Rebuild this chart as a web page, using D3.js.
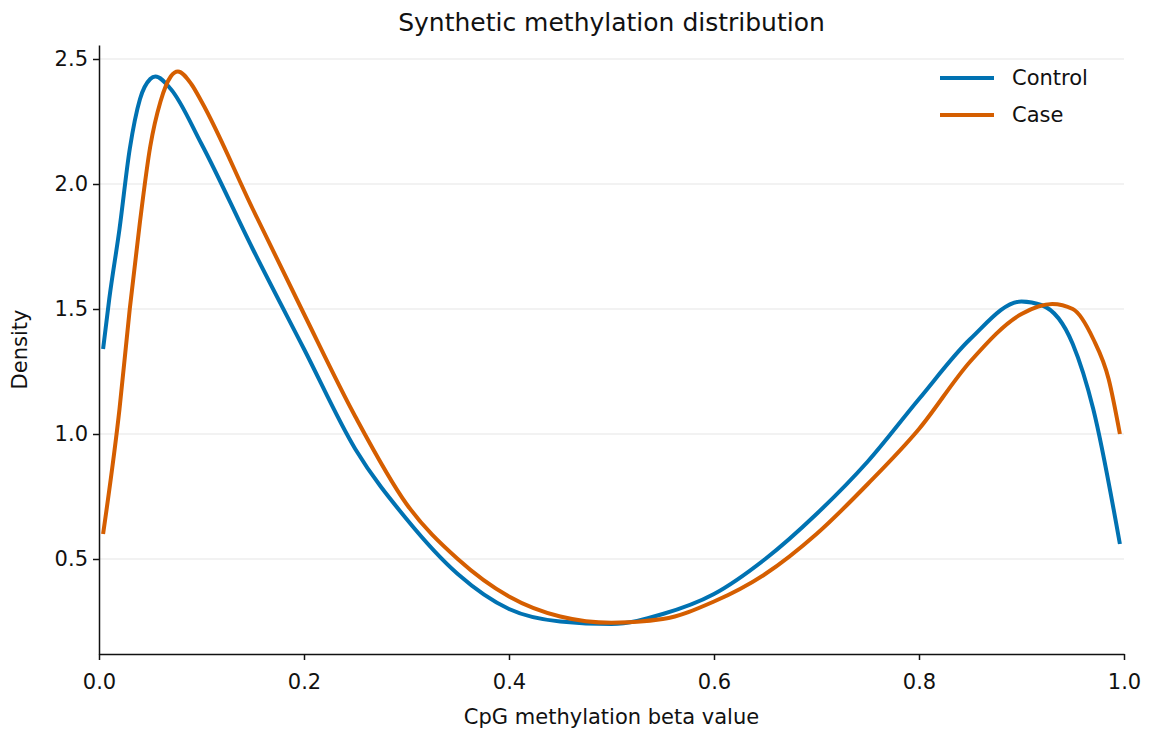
<!DOCTYPE html>
<html><head><meta charset="utf-8">
<script src="https://cdn.jsdelivr.net/npm/d3@7"></script>
<style>body{margin:0;background:#fff}text{font-family:"DejaVu Sans",sans-serif}</style>
</head><body>
<script>
var xs = [0.004,0.01,0.02,0.03,0.04,0.05,0.055,0.07,0.1,0.15,0.2,0.25,0.3,0.35,0.4,0.45,0.5,0.55,0.6,0.65,0.7,0.75,0.8,0.85,0.9,0.92,0.95,0.97,0.996]
var control = [1.34,1.54,1.82,2.14,2.34,2.42,2.43,2.38,2.16,1.74,1.34,0.94,0.66,0.44,0.30,0.25,0.24,0.28,0.36,0.50,0.68,0.89,1.14,1.38,1.53,1.515,1.36,1.1,0.56]
var xsCase = [0.004,0.02,0.03,0.04,0.05,0.06,0.07,0.077,0.09,0.1,0.15,0.2,0.25,0.3,0.35,0.4,0.45,0.5,0.55,0.6,0.65,0.7,0.75,0.8,0.85,0.9,0.93,0.95,0.97,0.985,0.996]
var caseV = [0.60,1.1,1.5,1.85,2.15,2.33,2.43,2.45,2.40,2.33,1.90,1.48,1.07,0.72,0.50,0.35,0.27,0.245,0.26,0.33,0.44,0.60,0.80,1.02,1.29,1.48,1.52,1.50,1.38,1.22,1.0]
var xTicks = [0,0.2,0.4,0.6,0.8,1.0]
var yTicks = [0.5,1.0,1.5,2.0,2.5]

var W=1152,H=737, m={l:99,r:28,t:45,b:83}
var svg=d3.select("body").append("svg").attr("width",W).attr("height",H)
var x=d3.scaleLinear().domain([0,1]).range([m.l,W-m.r])
var y=d3.scaleLinear().domain([0.12,2.556]).range([H-m.b,m.t])

svg.append("g").selectAll("line").data(yTicks).enter().append("line")
  .attr("x1",m.l).attr("x2",W-m.r).attr("y1",y).attr("y2",y).attr("stroke","#e6e6e6").attr("stroke-width",1.2)

var gx=svg.append("g").attr("transform","translate(0,"+(H-m.b)+")")
  .call(d3.axisBottom(x).tickValues(xTicks).tickFormat(d3.format(".1f")).tickSize(6).tickSizeOuter(0))
var gy=svg.append("g").attr("transform","translate("+m.l+",0)")
  .call(d3.axisLeft(y).tickValues(yTicks).tickFormat(d3.format(".1f")).tickSize(6).tickSizeOuter(0))
;[gx,gy].forEach(function(g){
  g.selectAll("text").attr("font-size",21).attr("fill","#111")
  g.selectAll("line,path").attr("stroke","#111").attr("stroke-width",1.5)
})
gx.selectAll("text").attr("dy","1.25em")
gy.selectAll("text").attr("x",-11)

var line=d3.line().curve(d3.curveMonotoneX).x(function(d){return x(d[0])}).y(function(d){return y(d[1])})
svg.append("path").datum(d3.zip(xs,control)).attr("d",line).attr("fill","none").attr("stroke","#0072b2").attr("stroke-width",4)
svg.append("path").datum(d3.zip(xsCase,caseV)).attr("d",line).attr("fill","none").attr("stroke","#d55e00").attr("stroke-width",4)

var leg=[["Control","#0072b2"],["Case","#d55e00"]]
leg.forEach(function(l,i){
  var yy=78+i*37
  svg.append("line").attr("x1",940).attr("x2",994).attr("y1",yy).attr("y2",yy).attr("stroke",l[1]).attr("stroke-width",4)
  svg.append("text").attr("x",1012).attr("y",yy+7).attr("font-size",21).attr("fill","#111").text(l[0])
})

svg.append("text").attr("x",(m.l+W-m.r)/2).attr("y",31).attr("text-anchor","middle").attr("font-size",25).attr("fill","#111").text("Synthetic methylation distribution")
svg.append("text").attr("x",(m.l+W-m.r)/2).attr("y",724).attr("text-anchor","middle").attr("font-size",21).attr("fill","#111").text("CpG methylation beta value")
svg.append("text").attr("transform","translate(27,"+((m.t+H-m.b)/2)+") rotate(-90)").attr("text-anchor","middle").attr("font-size",21).attr("fill","#111").text("Density")
</script>
</body></html>
